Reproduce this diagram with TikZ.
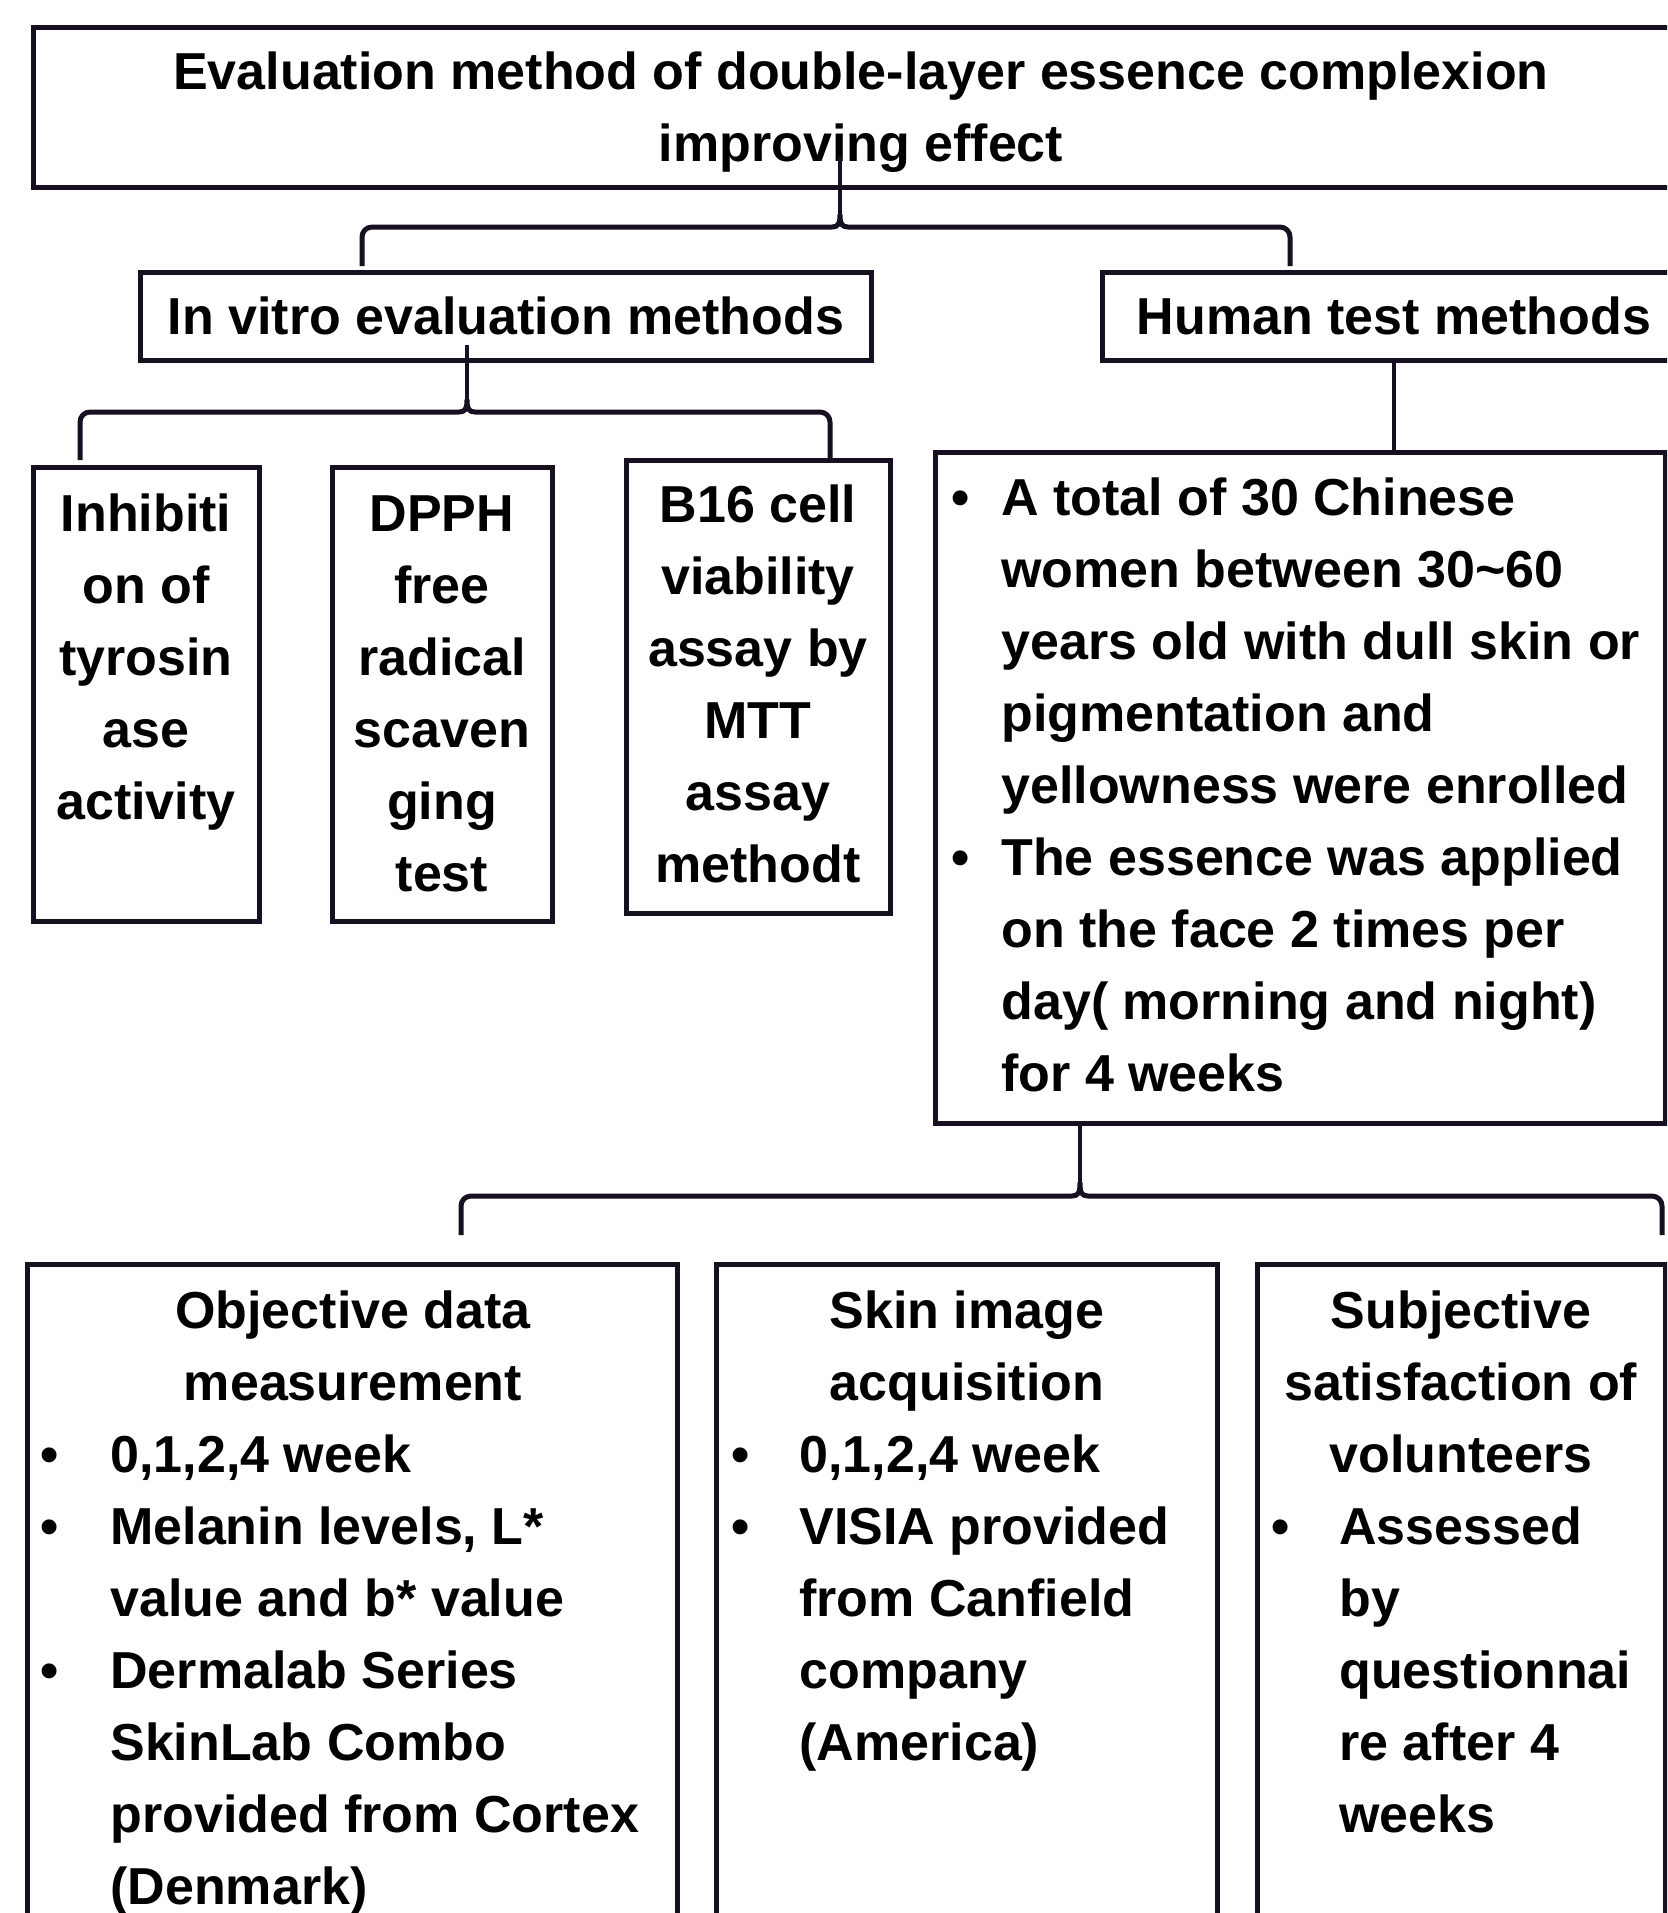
\documentclass[tikz,border=0pt]{standalone}
\usepackage{fontspec}
\setmainfont{Liberation Sans}
\usetikzlibrary{fit}
\definecolor{ln}{RGB}{22,16,32}
\newcommand\fs{\rule{0pt}{24pt}}
\newcommand\bul[1]{\makebox[#1][l]{•}}
\newcommand\ind[1]{\hspace*{#1}}
% brace: x1, x2, xc, y, yend-left, yend-right, cusp-y   (pixel units, y downward)
\newcommand\mybr[7]{%
  \draw[brc] (#1,-#5) -- (#1,{-#4-10}) arc[start angle=180,end angle=90,radius=10]
    -- ({#3-8},-#4) .. controls ({#3-2},-#4) and (#3,{-#4+3}) .. (#3,-#7)
    .. controls (#3,{-#4+3}) and ({#3+2},-#4) .. ({#3+8},-#4)
    -- ({#2-10},-#4) arc[start angle=90,end angle=0,radius=10] -- (#2,-#6);}
\begin{document}
\begin{tikzpicture}[x=0.5pt,y=0.5pt,
  box/.style={draw=ln, line width=2.5pt, inner sep=0pt},
  conn/.style={draw=ln, line width=1.6pt},
  brc/.style={draw=ln, line width=2.5pt, line join=round},
  txt/.style={font=\fontsize{26}{36}\selectfont\bfseries, inner sep=0pt, anchor=north, text=black}]
\useasboundingbox (0,0) rectangle (1667,-1913);
\clip (0,0) rectangle (1667,-1913);
\fill[white] (0,0) rectangle (1667,-1913);

% level 0
\node[box, fit={(33,-27) (1690,-187)}] (top) {};
\node[txt, align=center] (toptxt) at (861,-41) {\fs Evaluation method of double-layer essence complexion\\improving effect};

% brace 1
\coordinate (t1) at (840,-156);
\coordinate (c1) at (840,-215);
\draw[conn] (t1) -- (c1);
\mybr{362}{1290}{840}{227}{266}{266}{215}

% level 1
\node[box, fit={(140,-272) (871,-360)}] (vitro) {};
\node[txt] (vitrotxt) at (506,-286) {\fs In vitro evaluation methods};
\node[box, fit={(1102,-272) (1690,-360)}] (human) {};
\node[txt] (humantxt) at (1394,-286) {\fs Human test methods};

% brace 2
\coordinate (t2) at (467,-345);
\coordinate (c2) at (467,-400);
\draw[conn] (t2) -- (c2);
\mybr{80}{830}{467}{412}{460}{460}{400}

% level 2 (in vitro)
\node[box, fit={(33,-467) (259,-921)}] (inh) {};
\node[txt, align=center] (inhtxt) at (146,-483) {\fs Inhibiti\\on of\\tyrosin\\ase\\activity};
\node[box, fit={(332,-467) (552,-921)}] (dpph) {};
\node[txt, align=center] (dpphtxt) at (442,-483) {\fs DPPH\\free\\radical\\scaven\\ging\\test};
\node[box, fit={(626,-460) (890,-913)}] (b16) {};
\node[txt, align=center] (b16txt) at (758,-474) {\fs B16 cell\\viability\\assay by\\MTT\\assay\\methodt};

% human test box
\node[box, fit={(935,-452) (1665,-1123)}] (hum) {};
\coordinate (h1) at (1394,-360);
\coordinate (h2) at (1394,-452);
\draw[conn] (h1) -- (h2);
\node[txt, align=left, anchor=north west] (humtxt) at (951,-467) {\fs\bul{25pt}A total of 30 Chinese\\
\ind{25pt}women between 30\textasciitilde60\\
\ind{25pt}years old with dull skin or\\
\ind{25pt}pigmentation and\\
\ind{25pt}yellowness were enrolled\\
\bul{25pt}The essence was applied\\
\ind{25pt}on the face 2 times per\\
\ind{25pt}day( morning and night)\\
\ind{25pt}for 4 weeks};

% brace 3
\coordinate (t3) at (1080,-1123);
\coordinate (c3) at (1080,-1183);
\draw[conn] (t3) -- (c3);
\mybr{461}{1662}{1080}{1196}{1235}{1235}{1183}

% bottom boxes
\node[box, fit={(27,-1264) (677,-1960)}] (obj) {};
\node[txt, align=center] (objh) at (353,-1280) {\fs Objective data\\measurement};
\node[txt, align=left, anchor=north west] (objtxt) at (40,-1424) {\fs\bul{35pt}0,1,2,4 week\\
\bul{35pt}Melanin levels, L*\\
\ind{35pt}value and b* value\\
\bul{35pt}Dermalab Series\\
\ind{35pt}SkinLab Combo\\
\ind{35pt}provided from Cortex\\
\ind{35pt}(Denmark)};

\node[box, fit={(716,-1264) (1217,-1960)}] (skin) {};
\node[txt, align=center] (skinh) at (967,-1280) {\fs Skin image\\acquisition};
\node[txt, align=left, anchor=north west] (skintxt) at (731,-1424) {\fs\bul{34pt}0,1,2,4 week\\
\bul{34pt}VISIA provided\\
\ind{34pt}from Canfield\\
\ind{34pt}company\\
\ind{34pt}(America)};

\node[box, fit={(1257,-1264) (1665,-1960)}] (subj) {};
\node[txt, align=center] (subjh) at (1461,-1280) {\fs Subjective\\satisfaction of\\volunteers};
\node[txt, align=left, anchor=north west] (subjtxt) at (1271,-1496) {\fs\bul{34pt}Assessed\\
\ind{34pt}by\\
\ind{34pt}questionnai\\
\ind{34pt}re after 4\\
\ind{34pt}weeks};
\end{tikzpicture}
\end{document}
